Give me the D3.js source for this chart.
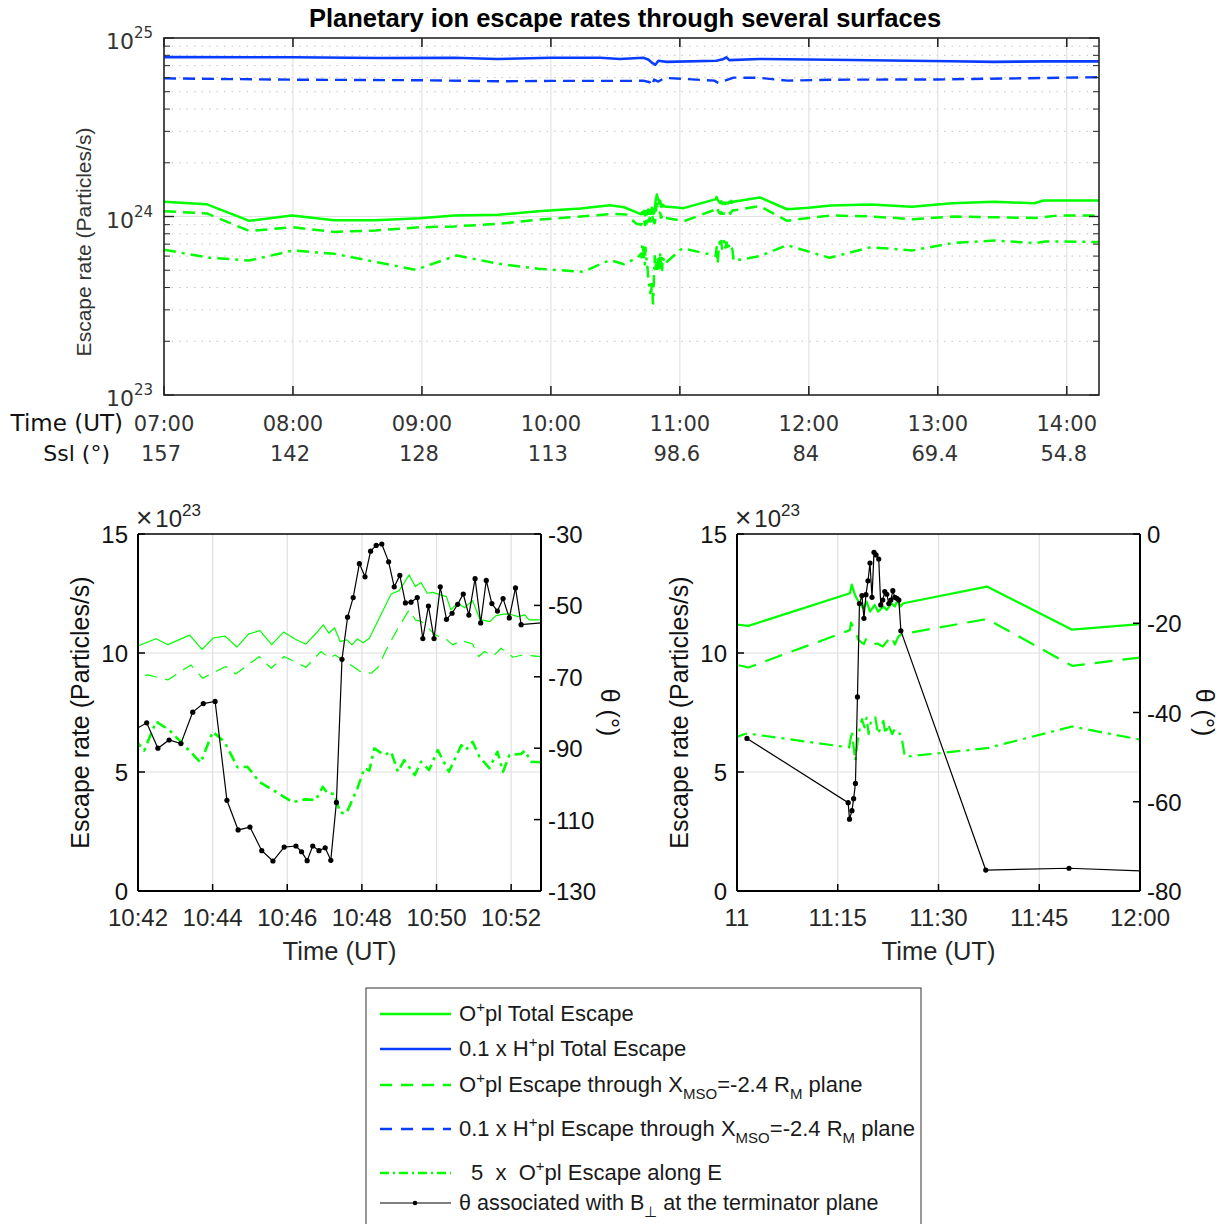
<!DOCTYPE html>
<html><head><meta charset="utf-8">
<script src="https://cdn.jsdelivr.net/npm/d3@7"></script>
<style>body{margin:0;background:#fff;} svg{display:block;} text{white-space:pre;}</style>
</head><body><svg id="c" width="1225" height="1224"></svg>
<script>
// ---------------- DATA (escape rates in units of 1e23 particles/s) ----------------
const topTickTimes = ["07:00:00","08:00:00","09:00:00","10:00:00","11:00:00","12:00:00","13:00:00","14:00:00"];
const topTickLabels = ["07:00","08:00","09:00","10:00","11:00","12:00","13:00","14:00"];
const sslLabels = ["157","142","128","113","98.6","84","69.4","54.8"];
const leftTickTimes = ["10:42:00","10:44:00","10:46:00","10:48:00","10:50:00","10:52:00"];
const leftTickLabels = ["10:42","10:44","10:46","10:48","10:50","10:52"];
const rightTickTimes = ["11:00:00","11:15:00","11:30:00","11:45:00","12:00:00"];
const rightTickLabels = ["11","11:15","11:30","11:45","12:00"];

const oplTotal = [
["07:00:00",12.1],["07:20:00",11.7],["07:39:43",9.46],["07:59:31",10.13],["08:19:12",9.53],["08:38:24",9.53],
["08:58:48",9.78],["09:15:00",10.13],["09:35:24",10.22],["09:54:00",10.7],["10:13:48",11.09],["10:27:30",11.55],
["10:34:00",11.27],["10:41:00",10.4],
["10:42:00",10.3],["10:42:29",10.6],["10:42:48",10.35],["10:43:23",10.75],["10:43:43",10.15],["10:44:01",10.63],
["10:44:20",10.71],["10:44:39",10.25],["10:44:58",10.8],["10:45:16",10.94],["10:45:35",10.35],["10:45:54",10.88],
["10:46:13",10.58],["10:46:30",10.37],["10:46:47",10.85],["10:46:58",11.18],["10:47:07",10.83],["10:47:16",11.06],
["10:47:25",10.48],["10:47:36",10.55],["10:47:44",10.34],["10:47:53",10.59],["10:48:02",10.43],["10:48:12",10.62],
["10:48:47",12.48],["10:49:00",12.62],["10:49:16",13.28],["10:49:26",12.79],["10:49:35",12.96],["10:49:45",12.51],
["10:49:54",12.55],["10:50:05",12.45],["10:50:16",12.37],["10:50:23",11.81],["10:50:34",12.1],["10:50:45",11.9],
["10:50:58",12.2],["10:51:10",11.4],["10:51:26",11.32],["10:51:35",11.56],["10:51:47",11.63],["10:51:57",11.64],
["10:52:11",11.53],["10:52:22",11.6],["10:52:29",11.39],["10:52:48",11.39],
["11:00:00",11.19],["11:01:41",11.14],["11:16:49",12.51],["11:17:05",12.87],["11:17:34",12.44],["11:18:04",12.16],
["11:18:48",11.88],["11:19:18",12.16],["11:19:48",11.74],["11:20:30",12.02],["11:21:00",11.74],["11:21:48",11.95],
["11:22:18",11.81],["11:23:00",12.09],["11:23:30",11.95],["11:23:54",12.23],["11:24:18",11.95],["11:24:48",12.09],
["11:37:12",12.79],["11:49:54",10.98],["12:00:00",11.21],["12:10:12",11.52],["12:28:48",11.67],["12:48:00",11.33],
["13:06:36",11.87],["13:26:24",12.08],["13:45:00",11.87],["13:49:12",12.29],["14:15:00",12.29]];

const oplPlane = [
["07:00:00",10.7],["07:20:00",10.4],["07:39:36",8.3],["08:00:00",8.7],["08:19:12",8.2],["08:38:24",8.35],
["08:58:48",8.7],["09:15:00",8.8],["09:36:00",9.1],["09:54:00",9.6],["10:13:48",10.0],["10:29:00",10.35],
["10:35:00",10.26],["10:39:48",9.1],
["10:42:00",9.0],["10:42:16",9.08],["10:42:48",8.87],["10:43:25",9.5],["10:43:44",8.94],["10:44:21",9.43],
["10:44:37",9.12],["10:45:15",9.85],["10:45:34",9.36],["10:45:55",9.85],["10:46:30",9.4],["10:46:54",10.06],
["10:47:08",9.78],["10:47:17",9.92],["10:47:29",9.71],["10:47:46",9.43],["10:47:56",9.24],["10:48:15",9.15],
["10:48:26",9.4],["10:48:39",10.13],["10:48:58",11.04],["10:49:16",11.81],["10:49:26",11.39],["10:49:36",11.32],
["10:49:58",10.76],["10:50:17",10.55],["10:50:26",10.34],["10:50:40",10.52],["10:50:58",10.38],["10:51:08",9.85],
["10:51:17",10.06],["10:51:31",9.87],["10:51:44",10.2],["10:52:03",9.82],["10:52:19",9.92],["10:52:48",9.85],
["11:00:00",9.5],["11:01:41",9.39],["11:16:48",10.96],["11:16:58",11.28],["11:17:36",10.93],["11:18:06",10.54],
["11:18:54",10.37],["11:19:12",10.58],["11:19:54",10.35],["11:20:54",10.4],["11:21:42",10.27],["11:22:12",10.44],
["11:22:57",10.72],["11:23:30",10.35],["11:24:00",10.68],["11:24:30",10.79],["11:37:12",11.43],["11:49:54",9.46],
["12:00:00",9.81],["12:10:48",10.13],["12:29:24",10.0],["12:48:36",9.66],["13:07:12",10.0],["13:27:00",9.9],
["13:45:36",9.8],["13:55:48",10.13],["14:15:00",10.13]];

const oplAlongE5 = [
["07:00:00",6.51],["07:21:18",5.87],["07:39:43",5.67],["08:00:00",6.45],["08:19:12",6.18],["08:57:00",5.03],
["09:16:12",6.05],["09:35:24",5.44],["09:54:00",5.1],["10:15:00",4.9],["10:27:24",5.7],["10:34:00",5.4],
["10:40:30",5.9],
["10:42:00",6.21],["10:42:10",5.9],["10:42:29",7.12],["10:42:50",6.77],["10:43:11",6.21],["10:43:41",5.39],
["10:44:00",6.69],["10:44:19",6.27],["10:44:40",5.2],["10:44:56",5.22],["10:45:15",4.59],["10:45:37",4.24],
["10:46:09",3.73],["10:46:28",3.85],["10:46:46",3.82],["10:46:57",4.38],["10:47:05",4.1],["10:47:16",4.08],
["10:47:25",3.29],["10:47:35",3.26],["10:47:53",4.32],["10:48:04",5.16],["10:48:12",5.06],["10:48:20",5.99],
["10:48:36",5.71],["10:48:47",5.85],["10:48:58",5.01],["10:49:08",5.5],["10:49:25",4.87],["10:49:35",5.43],
["10:49:48",5.08],["10:50:02",5.92],["10:50:20",5.01],["10:50:40",6.13],["10:50:47",5.92],["10:50:58",6.27],
["10:51:09",5.64],["10:51:25",5.16],["10:51:38",5.85],["10:51:47",5.01],["10:51:57",5.71],["10:52:16",5.76],
["10:52:22",5.9],["10:52:32",5.43],["10:52:48",5.41],
["11:00:00",6.48],["11:01:29",6.62],["11:16:42",6.03],["11:17:06",6.73],["11:17:36",5.47],["11:18:06",6.59],
["11:18:36",7.22],["11:19:00",6.87],["11:19:18",7.29],["11:19:36",6.59],["11:20:00",7.22],["11:20:36",7.29],
["11:21:00",6.59],["11:21:24",6.87],["11:21:48",7.15],["11:22:06",6.59],["11:22:30",7.01],["11:23:06",6.59],
["11:23:30",6.8],["11:24:00",6.73],["11:24:30",6.45],["11:25:00",5.64],["11:37:12",6.0],["11:49:54",6.91],
["12:00:00",6.36],["12:09:36",5.87],["12:28:48",6.73],["12:48:00",6.45],["13:06:36",7.09],["13:26:24",7.34],
["13:45:00",7.09],["13:50:00",7.25],["14:15:00",7.2]];

const hplTotal01 = [
["07:00:00",78.1],["08:00:00",78.0],["08:40:00",77.2],["09:15:00",77.5],["09:35:00",76.3],["10:00:00",77.5],
["10:23:00",77.5],["10:32:00",76.3],["10:43:00",77.5],["10:45:30",75.5],["10:46:48",73.0],["10:48:36",70.8],
["10:50:00",74.5],["10:51:36",74.1],["10:54:00",73.5],["11:17:00",74.6],["11:20:00",76.0],["11:21:36",78.0],
["11:23:00",75.2],["11:37:00",76.3],["12:10:00",75.5],["13:06:00",74.1],["13:26:00",73.5],["13:50:00",74.0],
["14:15:00",74.0]];

const hplPlane01 = [
["07:00:00",59.4],["08:00:00",58.4],["09:00:00",58.0],["09:35:00",57.2],["10:00:00",57.5],["10:40:00",57.5],
["10:43:00",57.7],["10:46:00",56.5],["10:47:00",54.0],["10:48:00",58.5],["10:50:00",57.0],["10:53:00",59.8],
["11:16:00",57.7],["11:18:00",56.0],["11:21:00",57.7],["11:25:00",60.0],["11:37:00",59.8],["11:50:00",57.7],
["12:10:00",58.4],["13:00:00",58.6],["14:15:00",60.3]];

const thetaLeft = [
["10:41:50",-85.3],["10:42:14",-82.9],["10:42:32",-90.0],["10:42:50",-87.7],["10:43:09",-88.7],["10:43:28",-79.9],
["10:43:45",-77.5],["10:44:04",-76.9],["10:44:23",-104.6],["10:44:41",-112.9],["10:45:00",-112.1],["10:45:19",-118.7],
["10:45:37",-121.6],["10:45:55",-117.7],["10:46:14",-117.4],["10:46:23",-119.0],["10:46:32",-121.5],["10:46:41",-117.4],
["10:46:51",-118.7],["10:47:01",-117.9],["10:47:10",-121.4],["10:47:19",-105.2],["10:47:28",-65.1],["10:47:37",-53.3],
["10:47:46",-47.8],["10:47:56",-38.3],["10:48:05",-42.0],["10:48:14",-34.8],["10:48:23",-33.2],["10:48:32",-32.8],
["10:48:43",-37.8],["10:48:52",-44.8],["10:49:01",-41.6],["10:49:10",-49.3],["10:49:19",-49.1],["10:49:29",-47.8],
["10:49:38",-59.3],["10:49:47",-50.2],["10:49:56",-59.3],["10:50:06",-44.8],["10:50:16",-53.9],["10:50:25",-52.2],
["10:50:34",-49.7],["10:50:43",-46.8],["10:50:52",-52.7],["10:51:02",-42.5],["10:51:11",-54.9],["10:51:20",-43.0],
["10:51:29",-49.5],["10:51:38",-51.6],["10:51:47",-48.1],["10:51:57",-53.5],["10:52:07",-45.1],["10:52:16",-55.4],
["10:53:00",-54.7]];

const thetaRight = [
["11:01:29",-45.8],["11:16:33",-60.2],["11:16:45",-63.9],["11:17:07",-62.0],["11:17:22",-59.3],["11:17:38",-55.9],
["11:17:56",-36.5],["11:18:14",-15.6],["11:18:36",-13.8],["11:18:54",-18.9],["11:19:12",-13.6],["11:19:30",-10.5],
["11:19:48",-6.5],["11:20:06",-14.2],["11:20:24",-4.1],["11:20:42",-4.7],["11:21:06",-5.6],["11:21:24",-15.9],
["11:21:42",-14.8],["11:22:00",-12.9],["11:22:18",-13.5],["11:22:36",-15.6],["11:22:54",-14.8],["11:23:12",-12.7],
["11:23:30",-14.2],["11:23:48",-14.4],["11:24:06",-14.8],["11:24:24",-21.7],["11:37:02",-75.3],["11:49:26",-74.9],
["12:00:30",-75.5]];

// ---------------- DRAWING ----------------
const parseT = d3.timeParse("%H:%M:%S");
const prep = arr => arr.map(d => [parseT(d[0]), d[1]]);
const GREEN = "#00ff00", BLUE = "#0a3cff";
const svg = d3.select("#c");
const FT = "'DejaVu Sans', sans-serif";
const FL = "'Liberation Sans', Arial, sans-serif";

function richText(g, x, y, parts, size, anchor, fill) {
  const t = g.append("text").attr("x", x).attr("y", y).attr("font-family", FL)
    .attr("font-size", size).attr("fill", fill || "#262626").attr("text-anchor", anchor || "start");
  let shift = 0;
  parts.forEach(p => {
    const [txt, kind] = p;
    let target = 0, fs = size;
    if (kind === "sup") { target = -Math.round(size * 0.42); fs = Math.round(size * 0.68); }
    if (kind === "sub") { target = Math.round(size * 0.32); fs = Math.round(size * 0.68); }
    t.append("tspan").attr("dy", target - shift).attr("font-size", fs).text(txt);
    shift = target;
  });
  return t;
}

function addClip(id, x0, y0, x1, y1) {
  svg.append("clipPath").attr("id", id).append("rect")
    .attr("x", x0).attr("y", y0).attr("width", x1 - x0).attr("height", y1 - y0);
}

// ===== Top chart =====
const T = {l:164, r:1099, t:38, b:395};
const xTop = d3.scaleTime().domain([parseT("07:00:00"), parseT("14:15:00")]).range([T.l, T.r]);
const yTop = d3.scaleLog().domain([1e23, 1e25]).range([T.b, T.t]);
addClip("clipTop", T.l, T.t, T.r, T.b);
const gTop = svg.append("g");

const minorVals = [];
[1e23, 1e24].forEach(dec => { for (let k = 2; k <= 9; k++) minorVals.push(k * dec); });
gTop.selectAll(".mg").data(minorVals).join("line")
  .attr("x1", T.l).attr("x2", T.r).attr("y1", d => yTop(d)).attr("y2", d => yTop(d))
  .attr("stroke", "#c4c4c4").attr("stroke-width", 1).attr("stroke-dasharray", "1.5,6");
gTop.append("line").attr("x1", T.l).attr("x2", T.r).attr("y1", yTop(1e24)).attr("y2", yTop(1e24))
  .attr("stroke", "#e2e2e2").attr("stroke-width", 1.2);
gTop.selectAll(".vg").data(topTickTimes.map(parseT)).join("line")
  .attr("x1", d => xTop(d)).attr("x2", d => xTop(d)).attr("y1", T.t).attr("y2", T.b)
  .attr("stroke", "#e2e2e2").attr("stroke-width", 1.2);

const lineTop = d3.line().x(d => xTop(d[0])).y(d => yTop(d[1] * 1e23));
const gTL = gTop.append("g").attr("clip-path", "url(#clipTop)");
const topSeries = [
  {d: hplTotal01, c: BLUE, w: 2.6, dash: null},
  {d: hplPlane01, c: BLUE, w: 2.4, dash: "12,7"},
  {d: oplTotal, c: GREEN, w: 2.5, dash: null},
  {d: oplPlane, c: GREEN, w: 2.5, dash: "12,7"},
  {d: oplAlongE5, c: GREEN, w: 2.5, dash: "12,6,3,6"}
];
topSeries.forEach(s => {
  gTL.append("path").datum(prep(s.d)).attr("d", lineTop).attr("fill", "none")
    .attr("stroke", s.c).attr("stroke-width", s.w).attr("stroke-dasharray", s.dash)
    .attr("stroke-linejoin", "round");
});

gTop.append("rect").attr("x", T.l).attr("y", T.t).attr("width", T.r - T.l).attr("height", T.b - T.t)
  .attr("fill", "none").attr("stroke", "#262626").attr("stroke-width", 1.6);
topTickTimes.map(parseT).forEach(d => {
  gTop.append("line").attr("x1", xTop(d)).attr("x2", xTop(d)).attr("y1", T.b).attr("y2", T.b - 9).attr("stroke", "#262626").attr("stroke-width", 1.6);
  gTop.append("line").attr("x1", xTop(d)).attr("x2", xTop(d)).attr("y1", T.t).attr("y2", T.t + 9).attr("stroke", "#262626").attr("stroke-width", 1.6);
});
minorVals.forEach(v => {
  gTop.append("line").attr("x1", T.l).attr("x2", T.l + 6).attr("y1", yTop(v)).attr("y2", yTop(v)).attr("stroke", "#262626");
  gTop.append("line").attr("x1", T.r).attr("x2", T.r - 6).attr("y1", yTop(v)).attr("y2", yTop(v)).attr("stroke", "#262626");
});
[1e23, 1e24, 1e25].forEach(v => {
  gTop.append("line").attr("x1", T.l).attr("x2", T.l + 10).attr("y1", yTop(v)).attr("y2", yTop(v)).attr("stroke", "#262626").attr("stroke-width", 1.4);
  gTop.append("line").attr("x1", T.r).attr("x2", T.r - 10).attr("y1", yTop(v)).attr("y2", yTop(v)).attr("stroke", "#262626").attr("stroke-width", 1.4);
  const ex = Math.round(Math.log10(v));
  const t = gTop.append("text").attr("x", 153).attr("y", yTop(v) + 11).attr("text-anchor", "end")
    .attr("font-family", FT).attr("font-size", 22).attr("fill", "#333");
  t.append("tspan").text("10");
  t.append("tspan").attr("dy", -11).attr("font-size", 15).text(String(ex));
});
topTickTimes.map(parseT).forEach((d, i) => {
  gTop.append("text").attr("x", xTop(d)).attr("y", 431).attr("text-anchor", "middle")
    .attr("font-family", FT).attr("font-size", 21).attr("fill", "#333").text(topTickLabels[i]);
  gTop.append("text").attr("x", xTop(d) - 3).attr("y", 461).attr("text-anchor", "middle")
    .attr("font-family", FT).attr("font-size", 21).attr("fill", "#333").text(sslLabels[i]);
});
gTop.append("text").attr("x", 123).attr("y", 431).attr("text-anchor", "end")
  .attr("font-family", FT).attr("font-size", 23).attr("fill", "#111").text("Time (UT)");
gTop.append("text").attr("x", 110).attr("y", 461).attr("text-anchor", "end")
  .attr("font-family", FT).attr("font-size", 22).attr("fill", "#111").text("Ssl (°)");
gTop.append("text").attr("transform", "translate(91,242) rotate(-90)").attr("text-anchor", "middle")
  .attr("font-family", FL).attr("font-size", 21).attr("fill", "#333").text("Escape rate (Particles/s)");
svg.append("text").attr("x", 625).attr("y", 27).attr("text-anchor", "middle")
  .attr("font-family", FL).attr("font-weight", "bold").attr("font-size", 25.5).attr("fill", "#000")
  .text("Planetary ion escape rates through several surfaces");

// ===== Bottom panels =====
function panel(opt) {
  const P = opt.box;
  const x = d3.scaleTime().domain(opt.domain.map(parseT)).range([P.l, P.r]);
  const y = d3.scaleLinear().domain([0, 15]).range([P.b, P.t]);
  const yr = d3.scaleLinear().domain(opt.rdomain).range([P.b, P.t]);
  addClip(opt.id, P.l, P.t, P.r, P.b);
  const g = svg.append("g");
  opt.ticks.map(parseT).forEach(d => {
    g.append("line").attr("x1", x(d)).attr("x2", x(d)).attr("y1", P.t).attr("y2", P.b).attr("stroke", "#e0e0e0").attr("stroke-width", 1.2);
  });
  [5, 10].forEach(v => {
    g.append("line").attr("x1", P.l).attr("x2", P.r).attr("y1", y(v)).attr("y2", y(v)).attr("stroke", "#e0e0e0").attr("stroke-width", 1.2);
  });
  const gl = g.append("g").attr("clip-path", `url(#${opt.id})`);
  const ln = d3.line().x(d => x(d[0])).y(d => y(d[1]));
  opt.series.forEach(s => {
    gl.append("path").datum(prep(s.d)).attr("d", ln).attr("fill", "none").attr("stroke", s.c)
      .attr("stroke-width", s.w).attr("stroke-dasharray", s.dash).attr("stroke-linejoin", "round");
  });
  const th = prep(opt.theta);
  const lt = d3.line().x(d => x(d[0])).y(d => yr(d[1]));
  gl.append("path").datum(th).attr("d", lt).attr("fill", "none").attr("stroke", "#000").attr("stroke-width", 1.2);
  gl.selectAll(".pt").data(th).join("circle").attr("cx", d => x(d[0])).attr("cy", d => yr(d[1]))
    .attr("r", 2.6).attr("fill", "#000");
  g.append("line").attr("x1", P.l).attr("x2", P.r).attr("y1", P.t).attr("y2", P.t).attr("stroke", "#000").attr("stroke-width", 1.6);
  g.append("line").attr("x1", P.l).attr("x2", P.r).attr("y1", P.b).attr("y2", P.b).attr("stroke", "#000").attr("stroke-width", 2);
  g.append("line").attr("x1", P.l).attr("x2", P.l).attr("y1", P.t).attr("y2", P.b).attr("stroke", "#000").attr("stroke-width", 2);
  g.append("line").attr("x1", P.r).attr("x2", P.r).attr("y1", P.t).attr("y2", P.b).attr("stroke", "#000").attr("stroke-width", 2);
  opt.ticks.map(parseT).forEach((d, i) => {
    g.append("line").attr("x1", x(d)).attr("x2", x(d)).attr("y1", P.b).attr("y2", P.b - 7).attr("stroke", "#000").attr("stroke-width", 1.5);
    g.append("text").attr("x", x(d)).attr("y", P.b + 35).attr("text-anchor", "middle").attr("font-family", FL)
      .attr("font-size", 24).attr("fill", "#262626").text(opt.tickLabels[i]);
  });
  [0, 5, 10, 15].forEach(v => {
    g.append("line").attr("x1", P.l).attr("x2", P.l + 7).attr("y1", y(v)).attr("y2", y(v)).attr("stroke", "#000").attr("stroke-width", 1.5);
    g.append("text").attr("x", P.l - 10).attr("y", y(v) + 9).attr("text-anchor", "end").attr("font-family", FL)
      .attr("font-size", 24).attr("fill", "#111").text(v);
  });
  opt.rticks.forEach(v => {
    g.append("line").attr("x1", P.r).attr("x2", P.r - 7).attr("y1", yr(v)).attr("y2", yr(v)).attr("stroke", "#000").attr("stroke-width", 1.5);
    g.append("text").attr("x", P.r + 7).attr("y", yr(v) + 9).attr("text-anchor", "start").attr("font-family", FL)
      .attr("font-size", 24).attr("fill", "#111").text(v);
  });
  g.append("text").attr("x", (P.l + P.r) / 2).attr("y", P.b + 69).attr("text-anchor", "middle").attr("font-family", FL)
    .attr("font-size", 25.5).attr("fill", "#262626").text("Time (UT)");
  g.append("text").attr("transform", `translate(${P.l - 49},${(P.t + P.b) / 2}) rotate(-90)`).attr("text-anchor", "middle")
    .attr("font-family", FL).attr("font-size", 25).attr("fill", "#111").text("Escape rate (Particles/s)");
  g.append("text").attr("transform", `translate(${P.r + opt.rlabelDx},${(P.t + P.b) / 2}) rotate(90)`).attr("text-anchor", "middle")
    .attr("font-family", FL).attr("font-size", 25).attr("fill", "#111").text("θ (°)");
  const m = g.append("text").attr("x", P.l - 2).attr("y", P.t - 7).attr("font-family", FL).attr("font-size", 24).attr("fill", "#262626");
  m.append("tspan").attr("font-size", 28).text("×");
  m.append("tspan").attr("dx", 3).text("10");
  m.append("tspan").attr("dy", -11).attr("font-size", 17).text("23");
}

panel({
  id: "clipBL", box: {l:138, r:541, t:534, b:891},
  domain: ["10:42:00", "10:52:48"], ticks: leftTickTimes, tickLabels: leftTickLabels,
  rdomain: [-130, -30], rticks: [-30, -50, -70, -90, -110, -130], rlabelDx: 60,
  series: [
    {d: oplTotal, c: GREEN, w: 1.2, dash: null},
    {d: oplPlane, c: GREEN, w: 1.2, dash: "13,8"},
    {d: oplAlongE5, c: GREEN, w: 2.6, dash: "11,5,3,5"}
  ],
  theta: thetaLeft
});
panel({
  id: "clipBR", box: {l:737, r:1140, t:534, b:891},
  domain: ["11:00:00", "12:00:00"], ticks: rightTickTimes, tickLabels: rightTickLabels,
  rdomain: [-80, 0], rticks: [0, -20, -40, -60, -80], rlabelDx: 56,
  series: [
    {d: oplTotal, c: GREEN, w: 2.2, dash: null},
    {d: oplPlane, c: GREEN, w: 2.2, dash: "18,10"},
    {d: oplAlongE5, c: GREEN, w: 2.2, dash: "14,6,3,6"}
  ],
  theta: thetaRight
});

// ===== Legend =====
const gLeg = svg.append("g");
gLeg.append("rect").attr("x", 366).attr("y", 988).attr("width", 555).attr("height", 260)
  .attr("fill", "#fff").attr("stroke", "#333").attr("stroke-width", 1);
const legItems = [
  {y: 1014, c: GREEN, dash: null, parts: [["O"],["+","sup"],["pl Total Escape"]], x: 459, fs: 22},
  {y: 1049, c: BLUE, dash: null, parts: [["0.1 x H"],["+","sup"],["pl Total Escape"]], x: 459, fs: 22},
  {y: 1085, c: GREEN, dash: "12,9", parts: [["O"],["+","sup"],["pl Escape through X"],["MSO","sub"],["=-2.4 R"],["M","sub"],[" plane"]], x: 459, fs: 22},
  {y: 1129, c: BLUE, dash: "12,9", parts: [["0.1 x H"],["+","sup"],["pl Escape through X"],["MSO","sub"],["=-2.4 R"],["M","sub"],[" plane"]], x: 459, fs: 22},
  {y: 1173, c: GREEN, dash: "9,4,2,4", parts: [["5  x  O"],["+","sup"],["pl Escape along E"]], x: 471, fs: 22},
  {y: 1203, c: "#000", dash: null, parts: [["θ associated with B"],["⊥","sub"],[" at the terminator plane"]], x: 459, fs: 21.5, theta: true}
];
legItems.forEach(it => {
  gLeg.append("line").attr("x1", 380).attr("x2", 451).attr("y1", it.y).attr("y2", it.y)
    .attr("stroke", it.c).attr("stroke-width", it.theta ? 1.2 : 2.6).attr("stroke-dasharray", it.dash);
  if (it.theta) gLeg.append("circle").attr("cx", 415).attr("cy", it.y).attr("r", 2.3).attr("fill", "#000");
  richText(gLeg, it.x, it.y + 7, it.parts, it.fs, "start", "#1a1a1a");
});
</script></body></html>
